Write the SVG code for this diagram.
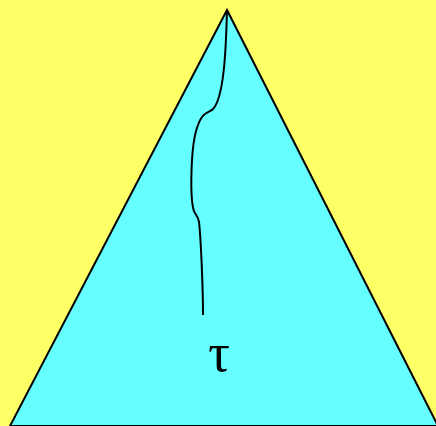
<svg xmlns="http://www.w3.org/2000/svg" width="436" height="426" viewBox="0 0 436 426">
<style>
.edge{fill:none;stroke:#000;stroke-width:2}
.lbl{font-family:"Liberation Serif",serif;font-size:54px;fill:#000}
</style>
<rect width="436" height="426" fill="#ffff66"/>
<g id="tree">
<polygon points="227,10 10,426 438,426" fill="#66ffff" stroke="#000" stroke-width="2"/>
</g>
<g id="connectors">
<path class="edge" d="M227,10 C226,50 224,100 212,110 C206,113 202,114 198,125 C190,145 190,200 194,211 C196,216 198,216 199,222 C201,240 203,290 203,315"/>
</g>
<g id="label">
<text class="lbl" x="219" y="371" text-anchor="middle">τ</text>
</g>
</svg>
